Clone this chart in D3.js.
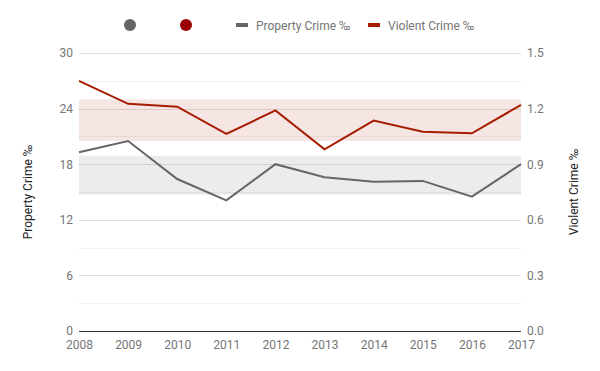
<!DOCTYPE html>
<html><head><meta charset="utf-8">
<script src="https://cdn.jsdelivr.net/npm/d3@7"></script>
<style>body{margin:0;background:#fff;font-family:Roboto,sans-serif}</style>
</head><body><svg id="c" width="600" height="371"></svg>
<script>
const years = [2008,2009,2010,2011,2012,2013,2014,2015,2016,2017];
const propertyCrime = [19.3,20.5,16.4,14.1,18.0,16.6,16.1,16.2,14.5,18.0];
const violentCrime = [1.35,1.226,1.21,1.063,1.19,0.98,1.135,1.075,1.067,1.22];
const leftTicks = [0,6,12,18,24,30];
const rightTicks = [0,0.3,0.6,0.9,1.2,1.5];
const propertyBand = [14.7,18.9];
const violentBand = [1.025,1.25];

const svg = d3.select("#c");
const m = {l:79, r:521, t:53, b:331};
const x = d3.scaleLinear().domain([2008,2017]).range([m.l,m.r]);
const yL = d3.scaleLinear().domain([0,30]).range([m.b,m.t]);
const yR = d3.scaleLinear().domain([0,1.5]).range([m.b,m.t]);

// minor + major gridlines
const grid = d3.range(3,31,3);
svg.append("g").attr("shape-rendering","crispEdges").selectAll("line").data(grid).join("line")
  .attr("x1",m.l).attr("x2",m.r).attr("y1",d=>Math.round(yL(d))+0.5).attr("y2",d=>Math.round(yL(d))+0.5)
  .attr("stroke", (d)=> d%6===0 ? "#e0e0e0" : "#f0f0f0").attr("stroke-width",1);

// bands
svg.append("rect").attr("x",m.l).attr("width",m.r-m.l)
  .attr("y",yR(violentBand[1])).attr("height",yR(violentBand[0])-yR(violentBand[1]))
  .attr("fill","rgba(166,17,0,0.11)");
svg.append("rect").attr("x",m.l).attr("width",m.r-m.l)
  .attr("y",yL(propertyBand[1])).attr("height",yL(propertyBand[0])-yL(propertyBand[1]))
  .attr("fill","rgba(102,102,102,0.12)");

// baseline
svg.append("line").attr("x1",m.l).attr("x2",m.r).attr("y1",m.b+0.5).attr("y2",m.b+0.5)
  .attr("stroke","#333").attr("stroke-width",1).attr("shape-rendering","crispEdges");

// axes
const tickStyle = g => { g.select(".domain").remove(); g.selectAll("line").remove();
  g.selectAll("text").attr("fill","#757575").attr("font-size",12).attr("font-family","Roboto"); };
svg.append("g").attr("transform",`translate(${m.l-6},0)`)
  .call(d3.axisLeft(yL).tickValues(leftTicks).tickSize(0).tickPadding(0)).call(tickStyle);
svg.append("g").attr("transform",`translate(${m.r+6},0)`)
  .call(d3.axisRight(yR).tickValues(rightTicks).tickSize(0).tickPadding(0).tickFormat(d3.format(".1f"))).call(tickStyle);
svg.append("g").attr("transform",`translate(0,${m.b+9})`)
  .call(d3.axisBottom(x).tickValues(years).tickSize(0).tickPadding(0).tickFormat(d3.format("d"))).call(tickStyle);

// lines
const lineL = d3.line().x((d,i)=>x(years[i])).y(d=>yL(d));
const lineR = d3.line().x((d,i)=>x(years[i])).y(d=>yR(d));
svg.append("path").datum(propertyCrime).attr("d",lineL).attr("fill","none")
  .attr("stroke","#666").attr("stroke-width",2);
svg.append("path").datum(violentCrime).attr("d",lineR).attr("fill","none")
  .attr("stroke","#a61c00").attr("stroke-width",2);

// axis titles
svg.append("text").attr("transform","translate(32,192) rotate(-90)").attr("text-anchor","middle")
  .attr("font-size",12).attr("fill","#222").text("Property Crime ‰");
svg.append("text").attr("transform","translate(578,192) rotate(-90)").attr("text-anchor","middle")
  .attr("font-size",12).attr("fill","#222").text("Violent Crime ‰");

// legend
svg.append("circle").attr("cx",130).attr("cy",25).attr("r",6).attr("fill","#666");
svg.append("circle").attr("cx",186).attr("cy",25).attr("r",6).attr("fill","#990000");
const leg = [{t:"Property Crime ‰",c:"#666",x:236},{t:"Violent Crime ‰",c:"#a61c00",x:368}];
leg.forEach(l=>{
  svg.append("rect").attr("x",l.x).attr("y",23).attr("width",12).attr("height",4).attr("fill",l.c);
  svg.append("text").attr("x",l.x+20).attr("y",29.5).attr("font-size",12).attr("fill","#757575").text(l.t);
});
</script></body></html>
